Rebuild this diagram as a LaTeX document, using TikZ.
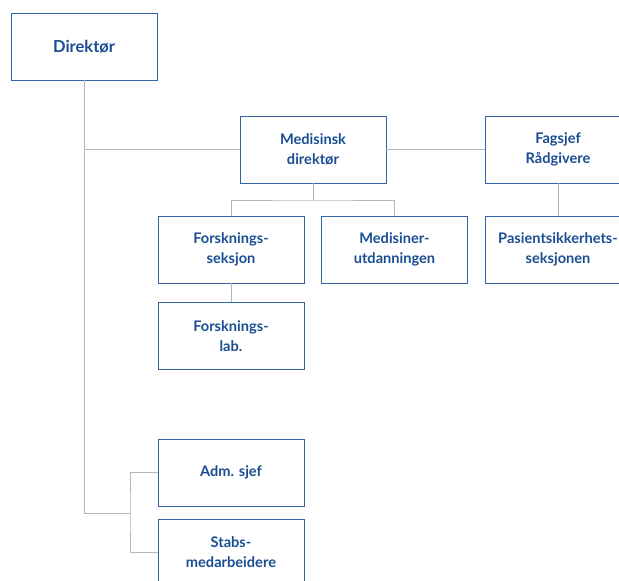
\documentclass[tikz,border=0pt]{standalone}
\usepackage{fontspec}
\setmainfont{Lato}
\definecolor{orgblue}{RGB}{26,78,146}
\definecolor{boxblue}{RGB}{48,100,166}
\definecolor{linegray}{RGB}{178,182,190}
\tikzset{
  unit/.style={draw=boxblue, line width=0.9pt, fill=white, minimum width=146pt, minimum height=67pt,
    align=center, font=\bfseries\fontsize{14.6}{20}\selectfont, text=orgblue, inner sep=0pt},
  link/.style={draw=linegray, line width=0.9pt}
}
\begin{document}
\begin{tikzpicture}[x=1pt,y=-1pt]
			%%%%% START %%%%%
			\useasboundingbox (0,0) rectangle (619,581);
			\clip (0,0) rectangle (619,581);
			
			% top level
			\node[unit, font=\bfseries\fontsize{16.5}{20}\selectfont] (dir) at (84, 46.5) {Direktør};
			\node[unit] (med) at (313, 149.5) {Medisinsk\\direktør};
			\node[unit] (fag) at (558, 149.5) {Fagsjef\\Rådgivere};
			
			% second level
			\node[unit] (forsk) at (231, 249.5) {Forsknings-\\seksjon};
			\node[unit] (utd) at (394.5, 249.5) {Medisiner-\\utdanningen};
			\node[unit] (pas) at (558, 249.5) {Pasientsikkerhets-\\seksjonen};
			\node[unit] (lab) at (231, 336) {Forsknings-\\lab.};
			
			% staff
			\node[unit] (adm) at (231, 472.5) {Adm. sjef};
			\node[unit] (stab) at (231, 552.5) {Stabs-\\medarbeidere};
			
			\coordinate (branch) at (84, 149.5);
			\coordinate (corner) at (84, 513);
			\coordinate (fork) at (130, 513);
			\coordinate (bar) at (313, 200);
			
			\draw[link] (dir.south) -- (corner) -- (fork);
			\draw[link] (branch) -- (med.west);
			\draw[link] (med.east) -- (fag.west);
			\draw[link] (med.south) -- (bar);
			\draw[link] (forsk.north) |- (bar) -| (utd.north);
			\draw[link] (fag.south) -- (pas.north);
			\draw[link] (forsk.south) -- (lab.north);
			\draw[link] (adm.west) -| (fork) |- (stab.west);
			
			%%%%% END %%%%%
\end{tikzpicture}
\end{document}
